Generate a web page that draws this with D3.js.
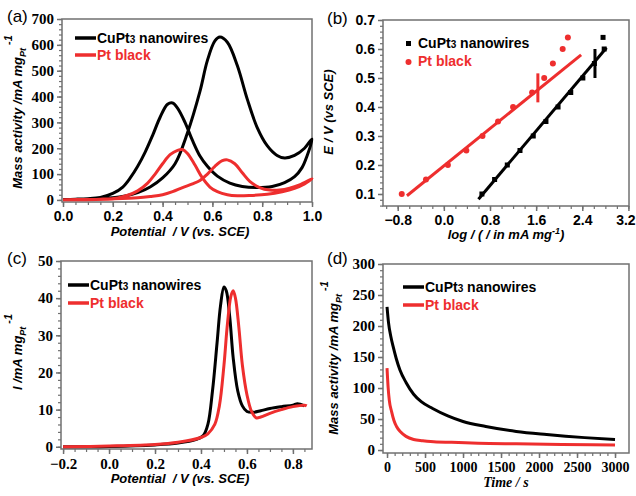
<!DOCTYPE html>
<html>
<head>
<meta charset="utf-8">
<script src="https://cdn.jsdelivr.net/npm/d3@7"></script>
<style>
  body { margin: 0; background: #fff; }
  svg { display: block; }
  .sans { font-family: "Liberation Sans", Arial, sans-serif; }
  .serif { font-family: "Liberation Serif", "Times New Roman", serif; }
</style>
</head>
<body>
<svg id="fig" width="636" height="496"></svg>
<script>
// (a) CV curves, forward then backward scan
const cvBlackE = [0, 0.1, 0.2, 0.25, 0.3, 0.35, 0.4, 0.45, 0.5, 0.55, 0.58, 0.61, 0.63, 0.66, 0.7, 0.74, 0.78, 0.82, 0.86, 0.89, 0.93, 0.97, 1.0,
  0.98, 0.96, 0.93, 0.89, 0.84, 0.78, 0.72, 0.67, 0.62, 0.58, 0.55, 0.52, 0.49, 0.46, 0.44, 0.42, 0.39, 0.36, 0.33, 0.3, 0.27, 0.24, 0.2, 0.15, 0.1, 0.05, 0];
const cvBlackJ = [2, 3, 8, 15, 28, 50, 85, 140, 260, 420, 540, 615, 630, 610, 520, 390, 280, 210, 172, 162, 172, 200, 235,
  170, 125, 90, 67, 52, 48, 52, 65, 92, 130, 170, 230, 300, 355, 375, 370, 320, 250, 185, 130, 85, 50, 25, 10, 5, 3, 2];
const cvRedE = [0, 0.1, 0.2, 0.3, 0.35, 0.4, 0.44, 0.48, 0.52, 0.55, 0.58, 0.61, 0.64, 0.66, 0.69, 0.72, 0.75, 0.79, 0.83, 0.87, 0.91, 0.95, 1.0,
  0.97, 0.93, 0.88, 0.82, 0.75, 0.7, 0.66, 0.62, 0.59, 0.56, 0.53, 0.5, 0.48, 0.46, 0.43, 0.4, 0.37, 0.34, 0.3, 0.26, 0.22, 0.15, 0.05, 0];
const cvRedJ = [1, 2, 4, 8, 13, 20, 32, 48, 62, 75, 100, 130, 152, 155, 140, 105, 72, 48, 38, 38, 45, 58, 82,
  62, 45, 32, 22, 17, 16, 20, 32, 50, 85, 135, 180, 195, 192, 175, 140, 100, 65, 35, 18, 8, 3, 1, 1];

// (b) Tafel data
const tafBlackX = [0.66, 0.88, 1.10, 1.32, 1.55, 1.77, 1.98, 2.20, 2.41, 2.61, 2.78, 2.76];
const tafBlackY = [0.10, 0.15, 0.20, 0.25, 0.30, 0.35, 0.40, 0.45, 0.50, 0.55, 0.60, 0.64];
const tafRedX = [-0.73, -0.31, 0.07, 0.39, 0.67, 0.94, 1.20, 1.53, 1.74, 1.89, 2.06, 2.15];
const tafRedY = [0.10, 0.15, 0.20, 0.25, 0.30, 0.35, 0.40, 0.45, 0.50, 0.55, 0.60, 0.64];
const fitBlackX = [0.60, 2.82];
const fitBlackY = [0.082, 0.604];
const fitRedX = [-0.64, 2.38];
const fitRedY = [0.094, 0.58];
const markBlackX = [2.62, 2.62];
const markBlackY = [0.50, 0.60];
const markRedX = [1.63, 1.63];
const markRedY = [0.416, 0.516];

// (c) CO stripping
const coBlackE = [-0.2, 0, 0.2, 0.3, 0.38, 0.41, 0.43, 0.45, 0.47, 0.485, 0.5, 0.51, 0.525, 0.54, 0.56, 0.58, 0.6, 0.63, 0.66, 0.7, 0.75, 0.8, 0.82, 0.85];
const coBlackI = [0, 0.1, 0.5, 1, 2, 3, 6, 15, 28, 38, 43, 42, 35, 24, 15, 11, 9.5, 9.3, 9.7, 10.3, 10.8, 11.2, 11.6, 11];
const coRedE = [-0.2, 0, 0.2, 0.3, 0.4, 0.43, 0.46, 0.48, 0.5, 0.515, 0.53, 0.54, 0.55, 0.565, 0.58, 0.6, 0.62, 0.64, 0.66, 0.7, 0.75, 0.8, 0.85, 0.86];
const coRedI = [0, 0.2, 0.6, 1.2, 2.5, 3.5, 6, 11, 22, 33, 40.5, 42, 40, 32, 22, 14, 9.5, 7.8, 8, 9, 10, 10.8, 11.2, 11];

// (d) chronoamperometry
const caBlackT = [0, 20, 50, 80, 120, 170, 250, 350, 450, 600, 800, 1000, 1300, 1700, 2100, 2600, 3000];
const caBlackJ = [231, 205, 183, 167, 148, 129, 109, 90, 78, 67, 55, 46, 38, 30, 25, 20, 17];
const caRedT = [0, 15, 30, 60, 90, 125, 180, 250, 350, 470, 650, 850, 1200, 1700, 2300, 3000];
const caRedJ = [132, 100, 80, 62, 48, 38, 29, 22, 17, 15, 13, 12.5, 11, 10, 9, 8];

const black = '#000000', red = '#ee2e2e', frameCol = '#707070';
const SANS = '"Liberation Sans", Arial, sans-serif';
const SERIF = '"Liberation Serif", "Times New Roman", serif';
const svg = d3.select('#fig');

function zipXY(xs, ys) { return xs.map((x, i) => [x, ys[i]]); }

function panel(cfg) {
  const x = d3.scaleLinear().domain(cfg.xDom).range([cfg.left, cfg.right]);
  const y = d3.scaleLinear().domain(cfg.yDom).range([cfg.bottom, cfg.top]);
  const g = svg.append('g');

  // frame
  g.append('rect')
    .attr('x', cfg.left).attr('y', cfg.top)
    .attr('width', cfg.right - cfg.left).attr('height', cfg.bottom - cfg.top)
    .attr('fill', 'none').attr('stroke', frameCol).attr('stroke-width', 1.5);

  // minor ticks
  g.append('g').attr('transform', `translate(0,${cfg.bottom})`)
    .call(d3.axisBottom(x).tickValues(cfg.xMinor).tickSize(3).tickFormat(''))
    .call(a => a.select('.domain').remove())
    .call(a => a.selectAll('line').attr('stroke', frameCol).attr('stroke-width', 1.2));
  g.append('g').attr('transform', `translate(${cfg.left},0)`)
    .call(d3.axisLeft(y).tickValues(cfg.yMinor).tickSize(3).tickFormat(''))
    .call(a => a.select('.domain').remove())
    .call(a => a.selectAll('line').attr('stroke', frameCol).attr('stroke-width', 1.2));

  // major ticks
  const xa = g.append('g').attr('transform', `translate(0,${cfg.bottom})`)
    .call(d3.axisBottom(x).tickValues(cfg.xTicks).tickSize(5).tickPadding(4).tickFormat(cfg.xFmt));
  xa.select('.domain').remove();
  xa.selectAll('line').attr('stroke', frameCol).attr('stroke-width', 1.5);
  xa.selectAll('text').style('font-family', cfg.xFont).style('font-size', cfg.xFs + 'px')
    .attr('font-weight', 'bold').attr('fill', '#000');

  const ya = g.append('g').attr('transform', `translate(${cfg.left},0)`)
    .call(d3.axisLeft(y).tickValues(cfg.yTicks).tickSize(5).tickPadding(3).tickFormat(cfg.yFmt));
  ya.select('.domain').remove();
  ya.selectAll('line').attr('stroke', frameCol).attr('stroke-width', 1.5);
  ya.selectAll('text').style('font-family', cfg.yFont).style('font-size', cfg.yFs + 'px')
    .attr('font-weight', 'bold').attr('fill', '#000');

  // panel label
  g.append('text').attr('class', 'sans').attr('x', cfg.labX).attr('y', cfg.labY)
    .attr('font-size', 17).text(cfg.label);

  return { g, x, y, xa, ya };
}

function curve(p, xs, ys, color, curveType) {
  p.g.append('path')
    .datum(zipXY(xs, ys))
    .attr('fill', 'none').attr('stroke', color).attr('stroke-width', 3)
    .attr('stroke-linejoin', 'round')
    .attr('d', d3.line().x(d => p.x(d[0])).y(d => p.y(d[1])).curve(curveType || d3.curveCatmullRom));
}

function lineLegend(g, x0, y0, dy, fs) {
  const items = [{ c: black, t: 'nw' }, { c: red, t: 'Pt black' }];
  items.forEach((it, i) => {
    const yy = y0 + i * dy;
    g.append('line').attr('x1', x0).attr('x2', x0 + 21).attr('y1', yy).attr('y2', yy)
      .attr('stroke', it.c).attr('stroke-width', 3.5);
    const t = g.append('text').attr('class', 'sans').attr('x', x0 + 22).attr('y', yy + 5)
      .attr('font-size', fs).attr('font-weight', 'bold').attr('fill', it.c);
    if (it.t === 'nw') {
      t.append('tspan').text('CuPt');
      t.append('tspan').attr('font-size', fs - 4).text('3');
      t.append('tspan').text(' nanowires');
    } else {
      t.text(it.t);
    }
  });
}

function massTitle(g, cx, cy, prefix) {
  const t = g.append('text').attr('class', 'sans')
    .attr('transform', `translate(${cx},${cy}) rotate(-90)`)
    .attr('text-anchor', 'middle').attr('font-size', 13)
    .attr('font-weight', 'bold').attr('font-style', 'italic');
  t.append('tspan').text(prefix + 'mA mg');
  t.append('tspan').attr('font-size', 9).attr('dy', 4).text('Pt');
  t.append('tspan').attr('font-size', 11).attr('dy', -14).attr('dx', 3).text('-1');
}

// ---------- (a)
const pa = panel({
  xDom: [-0.004, 1.0], yDom: [-8, 700], left: 62, right: 312, top: 19, bottom: 202,
  xTicks: [0, 0.2, 0.4, 0.6, 0.8, 1.0], xMinor: d3.range(0, 1.001, 0.05),
  yTicks: d3.range(0, 701, 100), yMinor: d3.range(0, 701, 20),
  xFmt: d3.format('.1f'), yFmt: d3.format('d'),
  xFont: SANS, xFs: 14, yFont: SERIF, yFs: 15,
  label: '(a)', labX: 7, labY: 22
});
curve(pa, cvBlackE, cvBlackJ, black);
curve(pa, cvRedE, cvRedJ, red);
lineLegend(pa.g, 75, 38, 17, 14);
pa.g.append('text').attr('class', 'sans').attr('x', 180).attr('y', 236)
  .attr('text-anchor', 'middle').attr('font-size', 13).attr('font-weight', 'bold').attr('font-style', 'italic')
  .attr('xml:space', 'preserve').text('Potential  / V (vs. SCE)');
massTitle(pa.g, 22, 112, 'Mass activity /');

// ---------- (b)
const pb = panel({
  xDom: [-1.055, 3.21], yDom: [0.0586, 0.7], left: 383, right: 629, top: 20, bottom: 206,
  xTicks: [-0.8, 0, 0.8, 1.6, 2.4, 3.2], xMinor: d3.range(-1.0, 3.21, 0.2),
  yTicks: [0.1, 0.2, 0.3, 0.4, 0.5, 0.6, 0.7], yMinor: d3.range(0.06, 0.701, 0.02),
  xFmt: d3.format('.1f'), yFmt: d3.format('.1f'),
  xFont: SANS, xFs: 14, yFont: SANS, yFs: 14,
  label: '(b)', labX: 327, labY: 24
});
// keep the last tick label inside the picture
pb.xa.selectAll('text').filter(d => d > 3).attr('dx', -3);
curve(pb, fitBlackX, fitBlackY, black, d3.curveLinear);
curve(pb, fitRedX, fitRedY, red, d3.curveLinear);
curve(pb, markBlackX, markBlackY, black, d3.curveLinear);
curve(pb, markRedX, markRedY, red, d3.curveLinear);
pb.g.selectAll('rect.pt').data(zipXY(tafBlackX, tafBlackY)).enter().append('rect')
  .attr('class', 'pt').attr('x', d => pb.x(d[0]) - 2.5).attr('y', d => pb.y(d[1]) - 2.5)
  .attr('width', 5).attr('height', 5).attr('fill', black);
pb.g.selectAll('circle.pt').data(zipXY(tafRedX, tafRedY)).enter().append('circle')
  .attr('class', 'pt').attr('cx', d => pb.x(d[0])).attr('cy', d => pb.y(d[1]))
  .attr('r', 3).attr('fill', red);
pb.g.append('rect').attr('x', 406).attr('y', 41).attr('width', 5).attr('height', 5).attr('fill', black);
pb.g.append('circle').attr('cx', 408.5).attr('cy', 62).attr('r', 3).attr('fill', red);
{
  const t = pb.g.append('text').attr('class', 'sans').attr('x', 418).attr('y', 48)
    .attr('font-size', 14).attr('font-weight', 'bold');
  t.append('tspan').text('CuPt');
  t.append('tspan').attr('font-size', 10).text('3');
  t.append('tspan').text(' nanowires');
  pb.g.append('text').attr('class', 'sans').attr('x', 418).attr('y', 66)
    .attr('font-size', 14).attr('font-weight', 'bold').attr('fill', red).text('Pt black');
}
{
  const t = pb.g.append('text').attr('class', 'sans').attr('x', 506).attr('y', 239)
    .attr('text-anchor', 'middle').attr('font-size', 13).attr('font-weight', 'bold').attr('font-style', 'italic');
  t.append('tspan').text('log / ( / in mA mg');
  t.append('tspan').attr('font-size', 9).attr('dy', -5).text('-1');
  t.append('tspan').attr('dy', 5).text(')');
  pb.g.append('text').attr('class', 'sans')
    .attr('transform', 'translate(333,112) rotate(-90)')
    .attr('text-anchor', 'middle').attr('font-size', 13).attr('font-weight', 'bold').attr('font-style', 'italic')
    .text('E / V (vs SCE)');
}

// ---------- (c)
const pc = panel({
  xDom: [-0.209, 0.883], yDom: [-0.6, 50], left: 61, right: 312, top: 261, bottom: 449,
  xTicks: [-0.2, 0, 0.2, 0.4, 0.6, 0.8], xMinor: d3.range(-0.2, 0.881, 0.05),
  yTicks: d3.range(0, 51, 10), yMinor: d3.range(0, 51, 2),
  xFmt: d3.format('.1f'), yFmt: d3.format('d'),
  xFont: SERIF, xFs: 15, yFont: SERIF, yFs: 15,
  label: '(c)', labX: 7, labY: 264
});
curve(pc, coBlackE, coBlackI, black);
curve(pc, coRedE, coRedI, red);
lineLegend(pc.g, 68, 285, 18, 14);
pc.g.append('text').attr('class', 'sans').attr('x', 180).attr('y', 483)
  .attr('text-anchor', 'middle').attr('font-size', 13).attr('font-weight', 'bold').attr('font-style', 'italic')
  .attr('xml:space', 'preserve').text('Potential  / V (vs. SCE)');
massTitle(pc.g, 22, 352, 'I /');

// ---------- (d)
const pd = panel({
  xDom: [-53, 3184], yDom: [-4.8, 300], left: 383, right: 629, top: 264, bottom: 453,
  xTicks: d3.range(0, 3001, 500), xMinor: d3.range(0, 3001, 100),
  yTicks: d3.range(0, 301, 50), yMinor: d3.range(0, 301, 10),
  xFmt: d3.format('d'), yFmt: d3.format('d'),
  xFont: SERIF, xFs: 14, yFont: SERIF, yFs: 15,
  label: '(d)', labX: 327, labY: 264
});
curve(pd, caBlackT, caBlackJ, black, d3.curveMonotoneX);
curve(pd, caRedT, caRedJ, red, d3.curveMonotoneX);
lineLegend(pd.g, 403, 287, 18, 14);
pd.g.append('text').attr('class', 'serif').attr('x', 506).attr('y', 487)
  .attr('text-anchor', 'middle').attr('font-size', 14).attr('font-weight', 'bold').attr('font-style', 'italic')
  .text('Time / s');
massTitle(pd.g, 338, 358, 'Mass activity /');
</script>
</body>
</html>
